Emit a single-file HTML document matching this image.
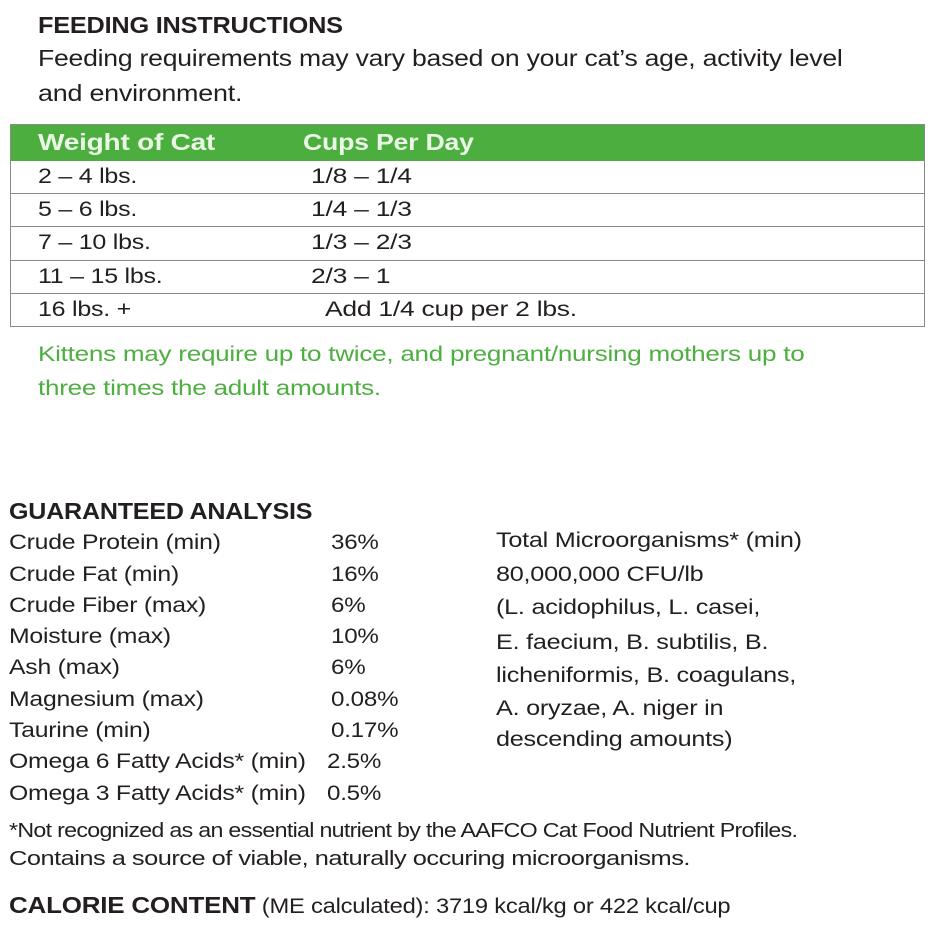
<!DOCTYPE html>
<html><head><style>
body{margin:0;width:932px;height:932px;background:#fff;position:relative;font-family:"Liberation Sans",sans-serif;color:#231f20;overflow:hidden}
.t{position:absolute;white-space:nowrap;font-size:21px;letter-spacing:-0.2px;transform-origin:0 0}
.b{font-weight:bold}
.g{color:#4caf3f;transform:scaleX(1.24)}
.l{transform:scaleX(1.19)}
.r{transform:scaleX(1.26)}
.a{transform:scaleX(1.18)}
.v{transform:scaleX(1.15)}
.m{transform:scaleX(1.2)}
#tbl{position:absolute;left:10px;top:124px;width:915px;height:203px;border:1px solid #8a8a8a;box-sizing:border-box}
#hd{position:absolute;left:0;top:0;width:100%;height:36px;background:#4cae3e}
.ln{position:absolute;left:0;width:100%;height:1px;background:#8a8a8a}
</style></head><body>
<div class="t b" style="left:38px;top:12px;font-size:23px;transform:scaleX(1.1)">FEEDING INSTRUCTIONS</div>
<div class="t" style="left:38px;top:45px;font-size:23px;transform:scaleX(1.155)">Feeding requirements may vary based on your cat’s age, activity level</div>
<div class="t" style="left:38px;top:80px;font-size:23px;transform:scaleX(1.17)">and environment.</div>
<div id="tbl"><div id="hd"></div>
<div class="ln" style="top:68px"></div><div class="ln" style="top:101px"></div><div class="ln" style="top:135px"></div><div class="ln" style="top:168px"></div></div>
<div class="t b" style="left:38px;top:129px;font-size:23px;color:#eaf7e6;transform:scaleX(1.22)">Weight of Cat</div>
<div class="t b" style="left:303px;top:129px;font-size:23px;color:#eaf7e6;transform:scaleX(1.16)">Cups Per Day</div>
<div class="t l" style="left:38px;top:165px">2 – 4 lbs.</div><div class="t r" style="left:311px;top:165px">1/8 – 1/4</div>
<div class="t l" style="left:38px;top:198px">5 – 6 lbs.</div><div class="t r" style="left:311px;top:198px">1/4 – 1/3</div>
<div class="t l" style="left:38px;top:231px">7 – 10 lbs.</div><div class="t r" style="left:311px;top:231px">1/3 – 2/3</div>
<div class="t l" style="left:38px;top:265px">11 – 15 lbs.</div><div class="t r" style="left:311px;top:265px">2/3 – 1</div>
<div class="t l" style="left:38px;top:298px">16 lbs. +</div><div class="t r" style="left:325px;top:298px">Add 1/4 cup per 2 lbs.</div>
<div class="t g" style="left:38px;top:343px">Kittens may require up to twice, and pregnant/nursing mothers up to</div>
<div class="t g" style="left:38px;top:377px">three times the adult amounts.</div>
<div class="t b" style="left:9px;top:498px;font-size:23px;transform:scaleX(1.09)">GUARANTEED ANALYSIS</div>
<div class="t a" style="left:9px;top:531px">Crude Protein (min)</div><div class="t v" style="left:331px;top:531px">36%</div>
<div class="t a" style="left:9px;top:563px">Crude Fat (min)</div><div class="t v" style="left:331px;top:563px">16%</div>
<div class="t a" style="left:9px;top:594px">Crude Fiber (max)</div><div class="t v" style="left:331px;top:594px">6%</div>
<div class="t a" style="left:9px;top:625px">Moisture (max)</div><div class="t v" style="left:331px;top:625px">10%</div>
<div class="t a" style="left:9px;top:656px">Ash (max)</div><div class="t v" style="left:331px;top:656px">6%</div>
<div class="t a" style="left:9px;top:688px">Magnesium (max)</div><div class="t v" style="left:331px;top:688px">0.08%</div>
<div class="t a" style="left:9px;top:719px">Taurine (min)</div><div class="t v" style="left:331px;top:719px">0.17%</div>
<div class="t a" style="left:9px;top:750px">Omega 6 Fatty Acids* (min)</div><div class="t v" style="left:327px;top:750px">2.5%</div>
<div class="t a" style="left:9px;top:782px">Omega 3 Fatty Acids* (min)</div><div class="t v" style="left:327px;top:782px">0.5%</div>
<div class="t m" style="left:496px;top:529px">Total Microorganisms* (min)</div>
<div class="t m" style="left:496px;top:563px">80,000,000 CFU/lb</div>
<div class="t m" style="left:496px;top:596px">(L. acidophilus, L. casei,</div>
<div class="t m" style="left:496px;top:631px">E. faecium, B. subtilis, B.</div>
<div class="t m" style="left:496px;top:664px">licheniformis, B. coagulans,</div>
<div class="t m" style="left:496px;top:697px">A. oryzae, A. niger in</div>
<div class="t m" style="left:496px;top:728px">descending amounts)</div>
<div class="t" style="left:9px;top:820px;font-size:20px;letter-spacing:-0.6px;transform:scaleX(1.16)">*Not recognized as an essential nutrient by the AAFCO Cat Food Nutrient Profiles.</div>
<div class="t" style="left:9px;top:848px;font-size:20px;letter-spacing:-0.4px;transform:scaleX(1.27)">Contains a source of viable, naturally occuring microorganisms.</div>
<div class="t" style="left:9px;top:892px;transform:scaleX(1.13)"><span class="b" style="font-size:23px">CALORIE CONTENT</span> (ME calculated): 3719 kcal/kg or 422 kcal/cup</div>
</body></html>
